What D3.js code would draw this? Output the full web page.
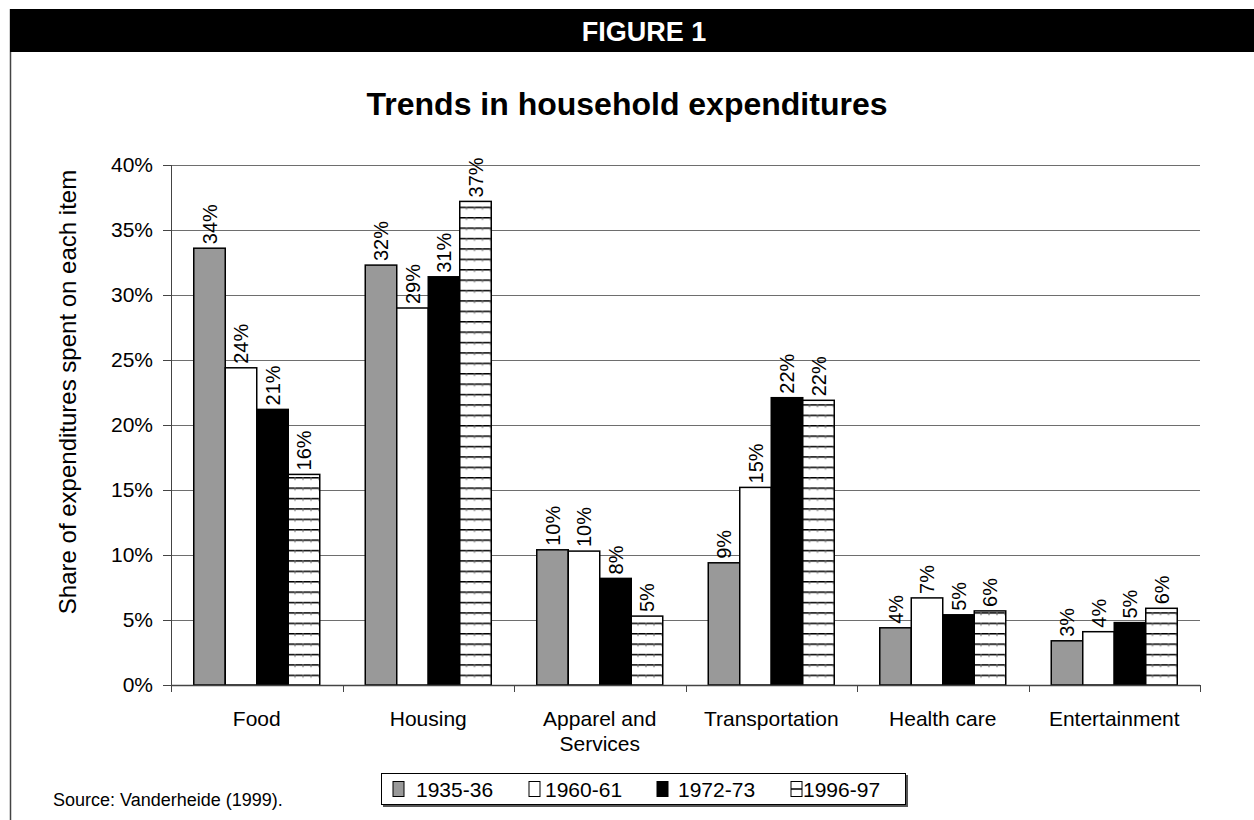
<!DOCTYPE html>
<html>
<head>
<meta charset="utf-8">
<script src="https://cdn.jsdelivr.net/npm/d3@7"></script>
<style>
  body { margin: 0; background: #fff; }
  svg { display: block; font-family: "Liberation Sans", Arial, sans-serif; }
</style>
</head>
<body>
<div id="visualContainer"></div>
<script>
// data (percent of household spending)
var categories = ["Food", "Housing", "Apparel and\nServices", "Transportation", "Health care", "Entertainment"];
var seriesNames = ["1935-36", "1960-61", "1972-73", "1996-97"];
var v1935 = [33.6, 32.3, 10.4, 9.4, 4.4, 3.4];
var v1960 = [24.4, 29.0, 10.3, 15.2, 6.7, 4.1];
var v1972 = [21.2, 31.4, 8.2, 22.1, 5.4, 4.8];
var v1996 = [16.2, 37.2, 5.3, 21.9, 5.7, 5.9];
var yTicks = [0, 5, 10, 15, 20, 25, 30, 35, 40];

var allSeries = [v1935, v1960, v1972, v1996];
var fills = ["#999999", "#ffffff", "#000000", "url(#hatch)"];

var W = 1254, H = 820;
var plot = {left: 171, right: 1200, top: 165, bottom: 685};

var svgCanvas = d3.select("#visualContainer")
  .append("svg")
  .attr("width", W)
  .attr("height", H);

// hatch pattern for the last series
var defs = svgCanvas.append("defs");
var pat = defs.append("pattern")
  .attr("id", "hatch")
  .attr("patternUnits", "userSpaceOnUse")
  .attr("width", 8)
  .attr("height", 10.4)
  .attr("y", plot.bottom);
pat.append("rect").attr("width", 8).attr("height", 10.4).attr("fill", "#fff");
pat.append("line").attr("x1", 0).attr("x2", 8).attr("y1", 0.5).attr("y2", 0.5)
  .attr("stroke", "#000").attr("stroke-width", 2);
pat.append("line").attr("x1", 4).attr("x2", 4).attr("y1", 0).attr("y2", 3)
  .attr("stroke", "#666").attr("stroke-width", 1);

// frame + header bar
svgCanvas.append("line")
  .attr("x1", 10.5).attr("x2", 10.5).attr("y1", 9).attr("y2", H)
  .attr("stroke", "#444").attr("stroke-width", 1.5);
svgCanvas.append("rect")
  .attr("x", 10).attr("y", 9).attr("width", W - 10).attr("height", 43)
  .attr("fill", "#000");
svgCanvas.append("text")
  .attr("x", 644).attr("y", 41)
  .attr("text-anchor", "middle")
  .attr("fill", "#fff")
  .attr("font-weight", "bold")
  .attr("font-size", 27)
  .text("FIGURE 1");

svgCanvas.append("text")
  .attr("x", 627).attr("y", 115)
  .attr("text-anchor", "middle")
  .attr("font-weight", "bold")
  .attr("font-size", 32)
  .text("Trends in household expenditures");

// scales
var x0 = d3.scaleBand()
  .domain(categories)
  .range([plot.left, plot.right])
  .padding(0);

var groupW = 126;
var x1 = d3.scaleBand()
  .domain(seriesNames)
  .range([(x0.bandwidth() - groupW) / 2, (x0.bandwidth() + groupW) / 2])
  .padding(0);

var y = d3.scaleLinear()
  .domain([0, 40])
  .range([plot.bottom, plot.top]);

// gridlines
svgCanvas.append("g")
  .selectAll("line")
  .data(yTicks.slice(1))
  .enter()
    .append("line")
      .attr("x1", plot.left).attr("x2", plot.right)
      .attr("y1", function(d){ return Math.round(y(d)) + 0.5; })
      .attr("y2", function(d){ return Math.round(y(d)) + 0.5; })
      .attr("stroke", "#6e6e6e")
      .attr("stroke-width", 1);

// y axis
var yAxis = d3.axisLeft(y)
  .tickValues(yTicks)
  .tickSize(8)
  .tickPadding(10)
  .tickFormat(function(d){ return d + "%"; });

var gy = svgCanvas.append("g")
  .attr("transform", "translate(" + plot.left + ",0)")
  .call(yAxis);
gy.selectAll("text").attr("font-size", 21).attr("fill", "#000").attr("font-family", null);
gy.selectAll("line, path").attr("stroke", "#444");
gy.select(".domain").attr("d", "M0.5," + plot.top + "V" + plot.bottom);

// bars
var groups = svgCanvas.append("g")
  .selectAll("g")
  .data(categories)
  .enter()
    .append("g")
      .attr("transform", function(d){ return "translate(" + x0(d) + ",0)"; });

var cells = groups.selectAll("g")
  .data(function(d, i){
    return seriesNames.map(function(s, k){ return {series: s, k: k, value: allSeries[k][i]}; });
  })
  .enter()
    .append("g");

cells.append("rect")
  .attr("x", function(d){ return x1(d.series); })
  .attr("y", function(d){ return y(d.value); })
  .attr("width", x1.bandwidth())
  .attr("height", function(d){ return y(0) - y(d.value); })
  .attr("fill", function(d){ return fills[d.k]; })
  .attr("stroke", "#000")
  .attr("stroke-width", 1.5);

cells.append("text")
  .attr("transform", function(d){
    return "translate(" + (x1(d.series) + x1.bandwidth() / 2) + "," + (y(d.value) - 4) + ") rotate(-90)";
  })
  .attr("dy", "0.35em")
  .attr("font-size", 20)
  .text(function(d){ return Math.round(d.value) + "%"; });

// x axis (ticks at category boundaries)
svgCanvas.append("line")
  .attr("x1", plot.left).attr("x2", plot.right)
  .attr("y1", plot.bottom + 0.5).attr("y2", plot.bottom + 0.5)
  .attr("stroke", "#444").attr("stroke-width", 1.5);

var bounds = categories.map(function(c){ return x0(c); }).concat([plot.right]);
svgCanvas.append("g")
  .selectAll("line")
  .data(bounds)
  .enter()
    .append("line")
      .attr("x1", function(d){ return Math.round(d) + 0.5; })
      .attr("x2", function(d){ return Math.round(d) + 0.5; })
      .attr("y1", plot.bottom).attr("y2", plot.bottom + 7)
      .attr("stroke", "#444");

var xl = svgCanvas.append("g")
  .selectAll("text")
  .data(categories)
  .enter()
    .append("text")
      .attr("x", function(d){ return x0(d) + x0.bandwidth() / 2; })
      .attr("y", 726)
      .attr("text-anchor", "middle")
      .attr("font-size", 21);
xl.selectAll("tspan")
  .data(function(d){ return d.split("\n"); })
  .enter()
    .append("tspan")
      .attr("x", function(){ return d3.select(this.parentNode).attr("x"); })
      .attr("dy", function(d, i){ return i === 0 ? 0 : 25; })
      .text(function(d){ return d; });

// y axis title
svgCanvas.append("text")
  .attr("transform", "translate(68,392) rotate(-90)")
  .attr("text-anchor", "middle")
  .attr("dy", "0.35em")
  .attr("font-size", 24)
  .text("Share of expenditures spent on each item");

// legend
var lg = svgCanvas.append("g");
lg.append("rect")
  .attr("x", 383).attr("y", 775).attr("width", 525).attr("height", 32)
  .attr("fill", "#555");
lg.append("rect")
  .attr("x", 381.5).attr("y", 773.5).attr("width", 524).attr("height", 31)
  .attr("fill", "#fff").attr("stroke", "#000").attr("stroke-width", 1);

var legX = [393, 529, 657, 791];
var legTextX = [416, 545, 678, 803];
var items = lg.selectAll("g.item")
  .data(seriesNames)
  .enter()
    .append("g")
      .attr("class", "item");
items.append("rect")
  .attr("x", function(d, i){ return legX[i]; })
  .attr("y", 781.5)
  .attr("width", 11).attr("height", 15)
  .attr("fill", function(d, i){ return i === 3 ? "#fff" : fills[i]; })
  .attr("stroke", "#000").attr("stroke-width", 1);
items.filter(function(d, i){ return i === 3; })
  .append("line")
  .attr("x1", legX[3]).attr("x2", legX[3] + 11).attr("y1", 789).attr("y2", 789)
  .attr("stroke", "#000").attr("stroke-width", 1.5);
items.append("text")
  .attr("x", function(d, i){ return legTextX[i]; })
  .attr("y", 796.5)
  .attr("font-size", 21)
  .text(function(d){ return d; });

svgCanvas.append("text")
  .attr("x", 53).attr("y", 806)
  .attr("font-size", 18)
  .text("Source: Vanderheide (1999).");
</script>
</body>
</html>
